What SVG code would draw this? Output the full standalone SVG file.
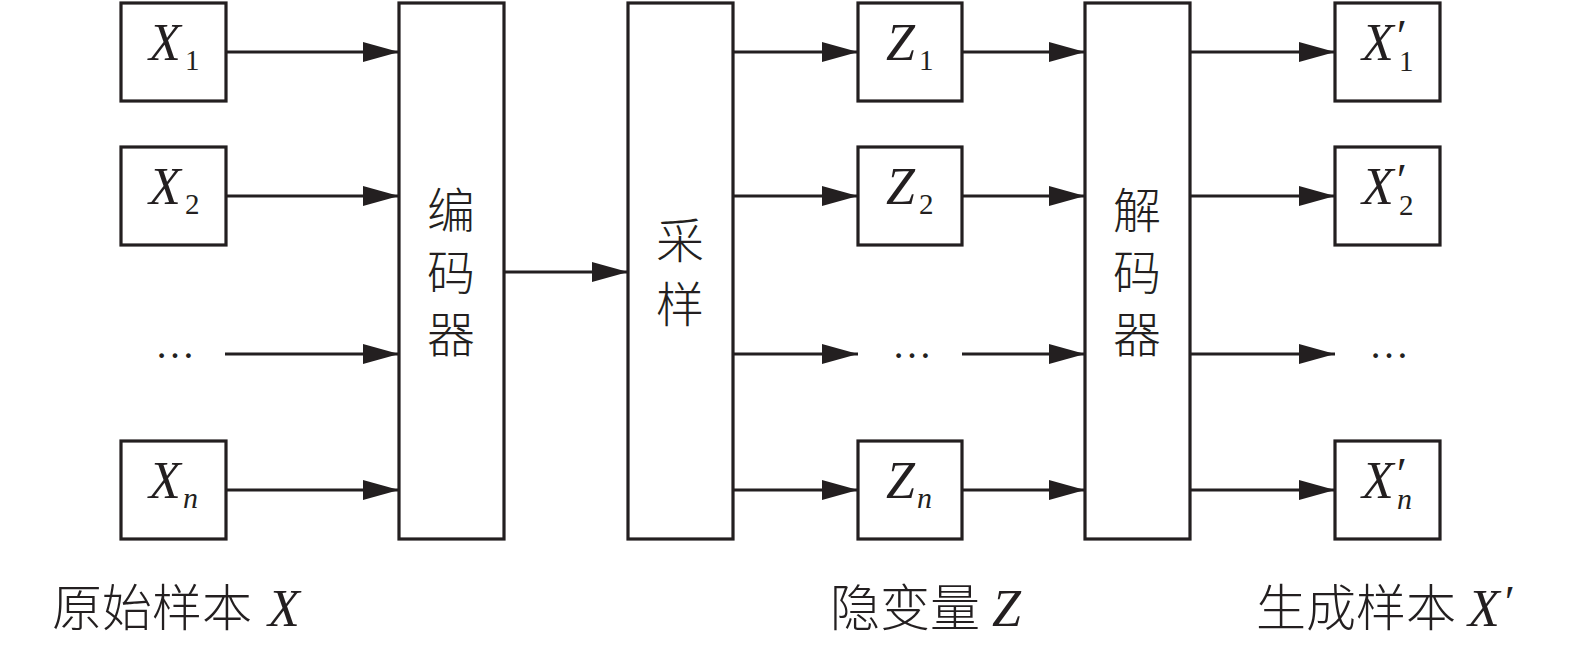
<svg xmlns="http://www.w3.org/2000/svg" width="1575" height="646" viewBox="0 0 1575 646">
<style>
.box{fill:#fff;stroke:#231f20;stroke-width:3.2}
.ln{stroke:#231f20;stroke-width:3.2;fill:none;marker-end:url(#ah)}
.v{font-family:"Liberation Serif","Times New Roman",serif;font-style:italic;font-size:52px;fill:#231f20}
.sub{font-family:"Liberation Serif","Times New Roman",serif;font-size:29px;fill:#231f20}
.subi{font-family:"Liberation Serif","Times New Roman",serif;font-size:30px;font-style:italic;fill:#231f20}
.pr{font-family:"Liberation Serif","Times New Roman",serif;font-style:italic;font-size:46px;fill:#231f20}
.cn{font-family:"Noto Sans CJK SC","Noto Sans CJK JP",sans-serif;font-size:48px;fill:#231f20;font-weight:300}
.lb{font-family:"Noto Sans CJK SC","Noto Sans CJK JP",sans-serif;font-size:50px;fill:#231f20;font-weight:300}
.dots{font-family:"Liberation Serif",serif;font-size:40px;fill:#231f20}
</style>
<defs>
<marker id="ah" viewBox="0 0 36 20" refX="36" refY="10" markerWidth="36" markerHeight="20" markerUnits="userSpaceOnUse" orient="auto">
<path d="M0,0 L36,10 L0,20 Z" fill="#231f20"/>
</marker>
</defs>
<rect width="1575" height="646" fill="#fff"/>
<g id="connectors">
<line class="ln" x1="227" y1="52" x2="399" y2="52"/>
<line class="ln" x1="227" y1="196" x2="399" y2="196"/>
<line class="ln" x1="225" y1="354" x2="399" y2="354"/>
<line class="ln" x1="227" y1="490" x2="399" y2="490"/>
<line class="ln" x1="504" y1="272" x2="628" y2="272"/>
<line class="ln" x1="733" y1="52" x2="858" y2="52"/>
<line class="ln" x1="733" y1="196" x2="858" y2="196"/>
<line class="ln" x1="733" y1="354" x2="858" y2="354"/>
<line class="ln" x1="733" y1="490" x2="858" y2="490"/>
<line class="ln" x1="963" y1="52" x2="1085" y2="52"/>
<line class="ln" x1="963" y1="196" x2="1085" y2="196"/>
<line class="ln" x1="962" y1="354" x2="1085" y2="354"/>
<line class="ln" x1="963" y1="490" x2="1085" y2="490"/>
<line class="ln" x1="1190" y1="52" x2="1335" y2="52"/>
<line class="ln" x1="1190" y1="196" x2="1335" y2="196"/>
<line class="ln" x1="1190" y1="354" x2="1335" y2="354"/>
<line class="ln" x1="1190" y1="490" x2="1335" y2="490"/>
</g>
<g id="x1"><rect class="box" x="121" y="3" width="105" height="98"/><text class="v" x="149" y="60">X</text><text class="sub" x="185" y="70">1</text></g>
<g id="x2"><rect class="box" x="121" y="147" width="105" height="98"/><text class="v" x="149" y="204">X</text><text class="sub" x="185" y="214">2</text></g>
<g id="xdots"><text class="dots" x="175" y="358" text-anchor="middle">…</text></g>
<g id="xn"><rect class="box" x="121" y="441" width="105" height="98"/><text class="v" x="149" y="498">X</text><text class="subi" x="183" y="508">n</text></g>
<g id="encoder"><rect class="box" x="399" y="3" width="105" height="536"/>
<text class="cn" x="451" y="228" text-anchor="middle">编</text>
<text class="cn" x="451" y="290" text-anchor="middle">码</text>
<text class="cn" x="451" y="352" text-anchor="middle">器</text></g>
<g id="sampler"><rect class="box" x="628" y="3" width="105" height="536"/>
<text class="cn" x="680" y="258" text-anchor="middle">采</text>
<text class="cn" x="680" y="322" text-anchor="middle">样</text></g>
<g id="z1"><rect class="box" x="858" y="3" width="104" height="98"/><text class="v" x="886" y="60">Z</text><text class="sub" x="919" y="70">1</text></g>
<g id="z2"><rect class="box" x="858" y="147" width="104" height="98"/><text class="v" x="886" y="204">Z</text><text class="sub" x="919" y="214">2</text></g>
<g id="zdots"><text class="dots" x="912" y="358" text-anchor="middle">…</text></g>
<g id="zn"><rect class="box" x="858" y="441" width="104" height="98"/><text class="v" x="886" y="498">Z</text><text class="subi" x="917" y="508">n</text></g>
<g id="decoder"><rect class="box" x="1085" y="3" width="105" height="536"/>
<text class="cn" x="1137" y="228" text-anchor="middle">解</text>
<text class="cn" x="1137" y="290" text-anchor="middle">码</text>
<text class="cn" x="1137" y="352" text-anchor="middle">器</text></g>
<g id="xp1"><rect class="box" x="1335" y="3" width="105" height="98"/><text class="v" x="1362" y="60">X</text><text class="pr" x="1394" y="52">′</text><text class="sub" x="1399" y="71">1</text></g>
<g id="xp2"><rect class="box" x="1335" y="147" width="105" height="98"/><text class="v" x="1362" y="204">X</text><text class="pr" x="1394" y="196">′</text><text class="sub" x="1399" y="215">2</text></g>
<g id="xpdots"><text class="dots" x="1389" y="358" text-anchor="middle">…</text></g>
<g id="xpn"><rect class="box" x="1335" y="441" width="105" height="98"/><text class="v" x="1362" y="498">X</text><text class="pr" x="1394" y="490">′</text><text class="subi" x="1397" y="509">n</text></g>
<g id="labels">
<text class="lb" x="52" y="626">原始样本</text><text class="v" x="268" y="626">X</text>
<text class="lb" x="830" y="626">隐变量</text><text class="v" x="992" y="626">Z</text>
<text class="lb" x="1256" y="626">生成样本</text><text class="v" x="1468" y="626">X</text><text class="pr" x="1502" y="618">′</text>
</g>
</svg>
